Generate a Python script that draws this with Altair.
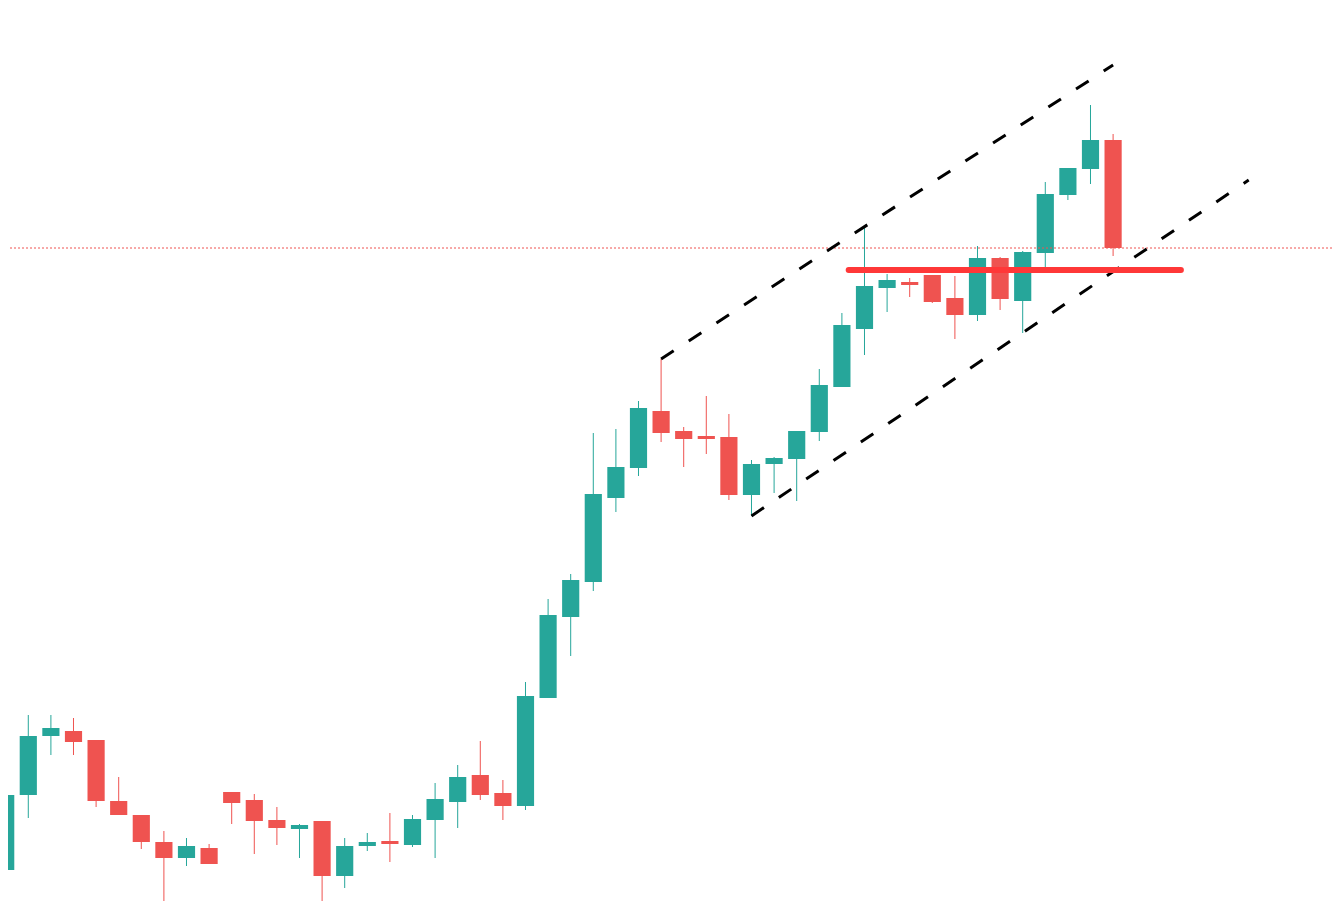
import altair as alt
import pandas as pd

# Candle OHLC values (price units)
opens  = [13.0, 20.5, 26.4, 26.9, 26.0, 19.9, 18.5, 15.8, 14.2, 15.2,
          20.8, 20.0, 18.0, 17.1, 17.9, 12.4, 15.4, 15.9, 15.5, 18.0,
          19.8, 22.5, 20.7, 19.4, 30.2, 38.3, 41.8, 50.2, 53.2, 58.9,
          56.9, 56.4, 56.3, 50.5, 53.6, 54.1, 56.8, 61.3, 67.1, 71.2,
          71.8, 72.5, 70.2, 68.5, 74.2, 69.9, 74.7, 80.5, 83.1, 86.0]
highs  = [21.5, 28.5, 28.5, 28.2, 26.0, 22.3, 18.5, 16.9, 16.2, 15.6,
          20.8, 20.6, 19.3, 17.6, 17.9, 16.2, 16.7, 18.7, 18.5, 21.7,
          23.5, 25.9, 22.0, 31.8, 40.1, 42.6, 56.7, 57.1, 59.9, 64.1,
          57.3, 60.4, 58.6, 54.0, 54.3, 56.9, 63.1, 68.7, 77.2, 72.6,
          72.2, 72.5, 72.4, 75.4, 74.3, 74.9, 81.8, 83.2, 89.5, 86.6]
lows   = [12.5, 18.2, 24.5, 24.5, 19.3, 18.5, 15.1, 9.5, 13.4, 13.6,
          17.6, 14.6, 15.5, 14.2, 9.1, 11.2, 14.9, 13.8, 15.3, 14.2,
          17.2, 20.0, 18.0, 19.0, 30.2, 34.4, 40.9, 48.8, 52.4, 55.8,
          53.3, 54.6, 50.0, 48.4, 50.7, 49.9, 55.9, 61.3, 64.5, 68.8,
          70.3, 69.7, 66.1, 67.9, 69.0, 66.7, 73.3, 80.0, 81.6, 74.4]
closes = [20.5, 26.4, 27.2, 25.8, 19.9, 18.5, 15.8, 14.2, 15.4, 13.6,
          19.7, 17.9, 17.2, 17.5, 12.4, 15.4, 15.8, 15.6, 18.1, 20.1,
          22.3, 20.5, 19.4, 30.4, 38.5, 42.0, 50.6, 53.3, 59.2, 56.7,
          56.1, 56.1, 50.5, 53.6, 54.2, 56.9, 61.5, 67.5, 71.4, 72.0,
          71.5, 69.8, 68.5, 74.2, 70.1, 74.8, 80.6, 83.2, 86.0, 75.2]

# Drawn channel lines (candle index, price)
upper_x = [29, 49]
upper_y = [64.1, 93.5]
lower_x = [33, 55]
lower_y = [48.4, 82.0]
# Horizontal resistance line
resist_x = [37.3, 52.0]
resist_y = [73.0, 73.0]
# Last price line
last_price = [75.2]

n = len(opens)
df = pd.DataFrame({
    "i": list(range(n)),
    "open": opens, "high": highs, "low": lows, "close": closes,
})
df["dir"] = ["up" if c >= o else "down" for o, c in zip(opens, closes)]

lines = pd.DataFrame({
    "x": [upper_x[0], lower_x[0]], "x2": [upper_x[1], lower_x[1]],
    "y": [upper_y[0], lower_y[0]], "y2": [upper_y[1], lower_y[1]],
})
resist = pd.DataFrame({"x": [resist_x[0]], "x2": [resist_x[1]],
                       "y": [resist_y[0]], "y2": [resist_y[1]]})
lastdf = pd.DataFrame({"p": last_price})

W, H = 1324, 893
xs = alt.Scale(domain=[0.102, 58.686], nice=False, zero=False)
ys = alt.Scale(domain=[9.9, 99.2], nice=False, zero=False)
color = alt.Color("dir:N",
                  scale=alt.Scale(domain=["up", "down"], range=["#26a69a", "#ef5350"]),
                  legend=None)

base = alt.Chart(df)
wicks = base.mark_rule(strokeWidth=1, clip=True).encode(
    x=alt.X("i:Q", scale=xs, axis=None),
    y=alt.Y("low:Q", scale=ys, axis=None),
    y2="high:Q",
    color=color,
)
bodies = base.transform_calculate(
    x0="datum.i - 0.38", x1="datum.i + 0.38"
).mark_bar(clip=True).encode(
    x=alt.X("x0:Q", scale=xs, axis=None),
    x2="x1:Q",
    y=alt.Y("open:Q", scale=ys, axis=None),
    y2="close:Q",
    color=color,
)
price_line = alt.Chart(lastdf).mark_rule(
    strokeDash=[2, 2], strokeWidth=1, color="#ef5350", clip=True
).encode(y=alt.Y("p:Q", scale=ys, axis=None))

channel = alt.Chart(lines).mark_rule(
    strokeDash=[15, 18], strokeWidth=3, color="#000000", clip=True
).encode(
    x=alt.X("x:Q", scale=xs, axis=None), x2="x2:Q",
    y=alt.Y("y:Q", scale=ys, axis=None), y2="y2:Q",
)
resistance = alt.Chart(resist).mark_rule(
    strokeWidth=6, color="#ff3838", strokeCap="round", clip=True
).encode(
    x=alt.X("x:Q", scale=xs, axis=None), x2="x2:Q",
    y=alt.Y("y:Q", scale=ys, axis=None), y2="y2:Q",
)

chart = alt.layer(wicks, bodies, price_line, channel, resistance).properties(
    width=W, height=H, padding=0,
    autosize=alt.AutoSizeParams(type="none"),
    background="#ffffff",
).configure_view(stroke=None)

chart.save("out.html", embed_options={"renderer": "svg", "actions": False})
